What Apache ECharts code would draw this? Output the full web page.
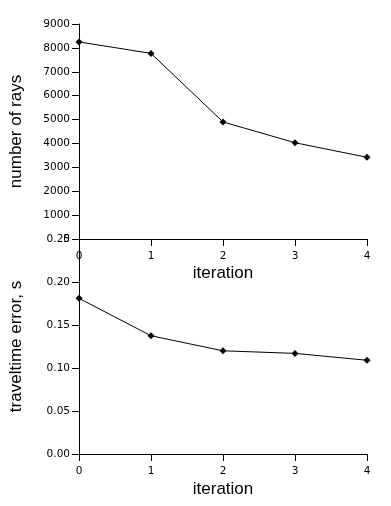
<!DOCTYPE html>
<html>
<head>
<meta charset="utf-8">
<script src="https://cdn.jsdelivr.net/npm/echarts@6/dist/echarts.min.js"></script>
<style>
html,body{margin:0;padding:0;background:#fff;}
#c{width:391px;height:506px;}
</style>
</head>
<body>
<div id="c"></div>
<script>
const iterations = [0, 1, 2, 3, 4];
const numberOfRays = [8250, 7770, 4900, 4030, 3420];
const traveltimeError = [0.181, 0.1375, 0.120, 0.117, 0.109];
const xTicks = [0, 1, 2, 3, 4];
const raysTicks = [0, 1000, 2000, 3000, 4000, 5000, 6000, 7000, 8000, 9000];
const errorTicks = [0.00, 0.05, 0.10, 0.15, 0.20, 0.25];

const tickFont = {fontFamily: 'DejaVu Sans', fontSize: 10.5, color: '#000'};
const titleFont = {fontFamily: 'Liberation Sans', fontSize: 17, color: '#000'};
const axisLine = {show: true, lineStyle: {color: '#000', width: 1}};
const axisTick = {show: true, length: 7, inside: false, lineStyle: {color: '#000', width: 1}};

function xAxis(gridIndex, gap) {
  return {
    type: 'value', gridIndex: gridIndex,
    min: xTicks[0], max: xTicks[xTicks.length - 1], interval: 1,
    name: 'iteration', nameLocation: 'middle', nameGap: gap,
    nameTextStyle: titleFont,
    axisLine: axisLine, axisTick: axisTick,
    axisLabel: Object.assign({margin: 12, formatter: v => String(v)}, tickFont),
    splitLine: {show: false}
  };
}

const chart = echarts.init(document.getElementById('c'), null, {renderer: 'canvas'});
chart.setOption({
  backgroundColor: '#fff',
  animation: false,
  grid: [
    {left: 79, top: 24, width: 288, height: 215},
    {left: 79, top: 239, width: 288, height: 215}
  ],
  xAxis: [xAxis(0, 26), xAxis(1, 27)],
  yAxis: [
    {
      type: 'value', gridIndex: 0,
      min: raysTicks[0], max: raysTicks[raysTicks.length - 1], interval: 1000,
      name: 'number of rays', nameLocation: 'middle', nameGap: 54,
      nameTextStyle: titleFont,
      axisLine: axisLine, axisTick: axisTick,
      axisLabel: Object.assign({margin: 9, formatter: v => String(v)}, tickFont),
      splitLine: {show: false}
    },
    {
      type: 'value', gridIndex: 1,
      min: errorTicks[0], max: errorTicks[errorTicks.length - 1], interval: 0.05,
      name: 'traveltime error, s', nameLocation: 'middle', nameGap: 54,
      nameTextStyle: titleFont,
      axisLine: axisLine, axisTick: axisTick,
      axisLabel: Object.assign({margin: 9, formatter: v => v.toFixed(2)}, tickFont),
      splitLine: {show: false}
    }
  ],
  series: [
    {
      type: 'line', xAxisIndex: 0, yAxisIndex: 0,
      data: iterations.map((x, i) => [x, numberOfRays[i]]),
      symbol: 'diamond', symbolSize: 7,
      lineStyle: {color: '#000', width: 1},
      itemStyle: {color: '#000'}
    },
    {
      type: 'line', xAxisIndex: 1, yAxisIndex: 1,
      data: iterations.map((x, i) => [x, traveltimeError[i]]),
      symbol: 'diamond', symbolSize: 7,
      lineStyle: {color: '#000', width: 1},
      itemStyle: {color: '#000'}
    }
  ]
});
</script>
</body>
</html>
